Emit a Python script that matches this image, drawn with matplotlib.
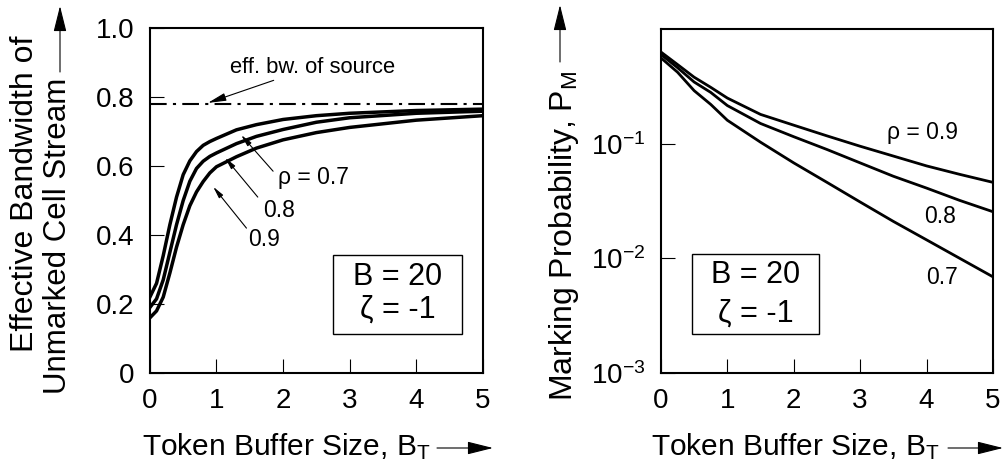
import numpy as np
import matplotlib
matplotlib.use("Agg")
import matplotlib.pyplot as plt
from matplotlib.patches import FancyArrowPatch, Rectangle

plt.rcParams["font.family"] = ["Liberation Sans", "DejaVu Sans"]
plt.rcParams["mathtext.fontset"] = "custom"
plt.rcParams["mathtext.rm"] = "Liberation Sans"
plt.rcParams["mathtext.it"] = "Liberation Sans:italic"

# left panel: effective bandwidth of unmarked cell stream
bw_x = [0, 0.1, 0.2, 0.3, 0.4, 0.5, 0.6, 0.7, 0.8, 0.9, 1.0, 1.3, 1.6, 2.0, 2.5, 3.0, 4.0, 5.0]
bw_rho07 = [0.22, 0.26, 0.34, 0.43, 0.51, 0.575, 0.615, 0.642, 0.66, 0.671, 0.68, 0.705, 0.72, 0.735, 0.746, 0.753, 0.761, 0.765]
bw_rho08 = [0.19, 0.215, 0.27, 0.35, 0.43, 0.5, 0.556, 0.593, 0.614, 0.628, 0.638, 0.665, 0.686, 0.706, 0.727, 0.74, 0.753, 0.759]
bw_rho09 = [0.16, 0.18, 0.22, 0.29, 0.365, 0.43, 0.485, 0.525, 0.555, 0.58, 0.598, 0.627, 0.652, 0.676, 0.697, 0.712, 0.733, 0.746]
eff_bw_source = 0.78

# right panel: marking probability
pm_x = [0, 0.25, 0.5, 0.75, 1.0, 1.5, 2.0, 2.5, 3.0, 3.5, 4.0, 4.5, 5.0]
pm_rho09 = [0.63, 0.49, 0.38, 0.31, 0.25, 0.18, 0.145, 0.117, 0.095, 0.078, 0.064, 0.054, 0.046]
pm_rho08 = [0.60, 0.46, 0.345, 0.28, 0.215, 0.15, 0.115, 0.089, 0.068, 0.052, 0.041, 0.032, 0.0255]
pm_rho07 = [0.56, 0.42, 0.29, 0.22, 0.16, 0.103, 0.068, 0.046, 0.031, 0.021, 0.0145, 0.0100, 0.0069]

x_ticks = [0, 1, 2, 3, 4, 5]
bw_ticks = [0, 0.2, 0.4, 0.6, 0.8, 1.0]
bw_tick_labels = ["0", "0.2", "0.4", "0.6", "0.8", "1.0"]
pm_ticks = [1e-3, 1e-2, 1e-1]
pm_tick_labels = [r"10$^{\mathregular{-3}}$", r"10$^{\mathregular{-2}}$", r"10$^{\mathregular{-1}}$"]

fig = plt.figure(figsize=(10.06, 4.68), dpi=100)
ax1 = fig.add_axes([0.149, 0.203, 0.331, 0.737])
ax2 = fig.add_axes([0.657, 0.203, 0.330, 0.735])

for ax in (ax1, ax2):
    for s in ax.spines.values():
        s.set_linewidth(1.5)
    ax.tick_params(direction="in", length=10, width=0.8, labelsize=20, pad=11,
                   top=False, right=False)
    ax.set_xlim(0, 5)
    ax.set_xticks(x_ticks)


def param_box(ax, x0, x1, y0, y1, ytop, ybot):
    ax.add_patch(Rectangle((x0, y0), x1 - x0, y1 - y0, transform=ax.transAxes,
                           fc="white", ec="k", lw=1.0, zorder=3))
    xc = (x0 + x1) / 2
    ax.text(xc, ytop, "B = 20", transform=ax.transAxes, fontsize=22,
            ha="center", va="center", zorder=4)
    ax.text(xc, ybot, "ζ = -1", transform=ax.transAxes, fontsize=22,
            ha="center", va="center", zorder=4)


# left panel
ax1.plot(bw_x, bw_rho07, color="k", lw=2.5)
ax1.plot(bw_x, bw_rho08, color="k", lw=2.5)
ax1.plot(bw_x, bw_rho09, color="k", lw=2.5)
ax1.axhline(eff_bw_source, color="k", lw=1.5, ls=(0, (8, 3, 1.5, 3)))
ax1.set_ylim(0, 1.0)
ax1.set_yticks(bw_ticks)
ax1.set_yticklabels(bw_tick_labels)

arr = dict(arrowstyle="-|>,head_length=0.7,head_width=0.15", lw=0.8, color="k",
           shrinkA=0, shrinkB=0)
ax1.annotate("eff. bw. of source", xy=(0.87, 0.783), xytext=(1.2, 0.887),
             fontsize=15.8, va="center", ha="left", arrowprops=arr)
ax1.annotate("", xy=(1.37, 0.69), xytext=(1.85, 0.585), arrowprops=arr)
ax1.text(1.92, 0.568, "ρ = 0.7", fontsize=16.5, va="center", ha="left")
ax1.annotate("", xy=(1.13, 0.624), xytext=(1.62, 0.51), arrowprops=arr)
ax1.text(1.70, 0.472, "0.8", fontsize=16.5, va="center", ha="left")
ax1.annotate("", xy=(0.95, 0.54), xytext=(1.45, 0.42), arrowprops=arr)
ax1.text(1.47, 0.386, "0.9", fontsize=16.5, va="center", ha="left")

param_box(ax1, 0.55, 0.937, 0.113, 0.342, 0.278, 0.183)

# right panel
ax2.plot(pm_x, pm_rho09, color="k", lw=2)
ax2.plot(pm_x, pm_rho08, color="k", lw=2)
ax2.plot(pm_x, pm_rho07, color="k", lw=2)
ax2.set_yscale("log")
ax2.set_ylim(1e-3, 1)
ax2.set_yticks(pm_ticks)
ax2.set_yticklabels(pm_tick_labels)
ax2.minorticks_off()
ax2.text(3.4, 0.125, "ρ = 0.9", fontsize=16.5, va="center", ha="left")
ax2.text(3.97, 0.023, "0.8", fontsize=16.5, va="center", ha="left")
ax2.text(4.0, 0.0068, "0.7", fontsize=16.5, va="center", ha="left")

param_box(ax2, 0.093, 0.476, 0.113, 0.346, 0.285, 0.174)

# axis labels with arrows (figure pixel coords, y from top)
W, H = 1006, 468


def fx(px):
    return px / W


def fy(py):
    return 1 - py / H


fig.text(fx(25), fy(194), "Effective Bandwidth of", rotation=90,
         ha="center", va="center", fontsize=23)
fig.text(fx(58), fy(236), "Unmarked Cell Stream", rotation=90,
         ha="center", va="center", fontsize=22.5)
fig.text(fx(564), fy(236), r"Marking Probability, P$_\mathrm{M}$", rotation=90,
         ha="center", va="center", fontsize=23)
fig.text(fx(286), fy(447), r"Token Buffer Size, B$_\mathrm{T}$",
         ha="center", va="center", fontsize=21.5)
fig.text(fx(795), fy(447), r"Token Buffer Size, B$_\mathrm{T}$",
         ha="center", va="center", fontsize=21.5)

farr = dict(arrowstyle="-|>,head_length=0.8,head_width=0.2", lw=0.8, color="k",
            shrinkA=0, shrinkB=0, mutation_scale=20, transform=fig.transFigure)
for p0, p1 in [((60, 72), (60, 6)), ((560, 62), (560, 5)),
               ((437, 448), (493, 448)), ((948, 448), (1003, 448))]:
    fig.patches.append(FancyArrowPatch((fx(p0[0]), fy(p0[1])),
                                       (fx(p1[0]), fy(p1[1])), **farr))

fig.savefig("out.png", dpi=100)
